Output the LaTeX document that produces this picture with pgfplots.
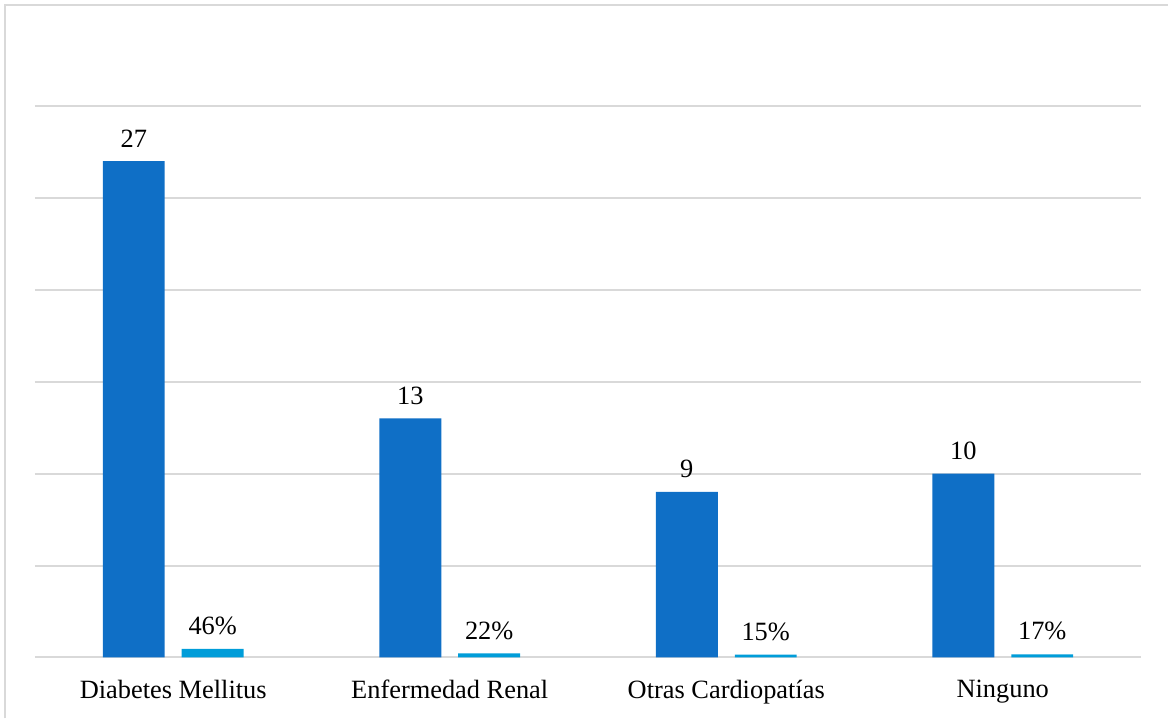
\documentclass[border=0pt]{standalone}
\usepackage{fontspec}
\setmainfont{Liberation Serif}
\usepackage{pgfplots}
\pgfplotsset{compat=1.18}
\definecolor{barDark}{HTML}{0F6FC6}
\definecolor{barLight}{HTML}{009DD9}
\definecolor{gridGray}{HTML}{D9D9D9}
\begin{document}
\begin{tikzpicture}
\begin{axis}[
  at={(0,0)}, anchor=south west,
  scale only axis, width=1107bp, height=552bp,
  xmin=-0.5, xmax=3.5, ymin=0, ymax=30,
  ybar, bar width=62bp,
  xtick={0,1,2,3},
  xticklabels={Diabetes Mellitus, Enfermedad Renal, Otras Cardiopatías, Ninguno},
  ytick={0,5,...,30}, yticklabels={},
  ymajorgrids, grid style={gridGray, line width=2bp},
  axis line style={draw=none},
  major tick style={draw=none},
  tick label style={font=\fontsize{26.5}{30}\selectfont},
  xticklabel style={yshift=-15bp},
  nodes near coords, point meta=explicit symbolic,
  every node near coord/.append style={font=\fontsize{26.5}{30}\selectfont, text=black, yshift=10.5bp},
  clip=false,
]
% counts
\addplot[fill=barDark, draw=none, bar shift=-39.5bp] table[meta=lbl] {
x y lbl
0 27 27
1 13 13
2 9 9
3 10 10
};
% share of patients, drawn on the same scale (46% -> 0.46)
\addplot[fill=barLight, draw=none, bar shift=39.5bp,
  nodes near coords={\pgfplotspointmeta\%}] table[meta=lbl] {
x y lbl
0 0.46 46
1 0.22 22
2 0.15 15
3 0.17 17
};
\end{axis}
\draw[gridGray, line width=2bp] (-30bp,-61bp) -- (-30bp,653bp) -- (1134bp,653bp);
\path[use as bounding box] (-35bp,-61bp) rectangle (1134bp,658bp);
\end{tikzpicture}
\end{document}
